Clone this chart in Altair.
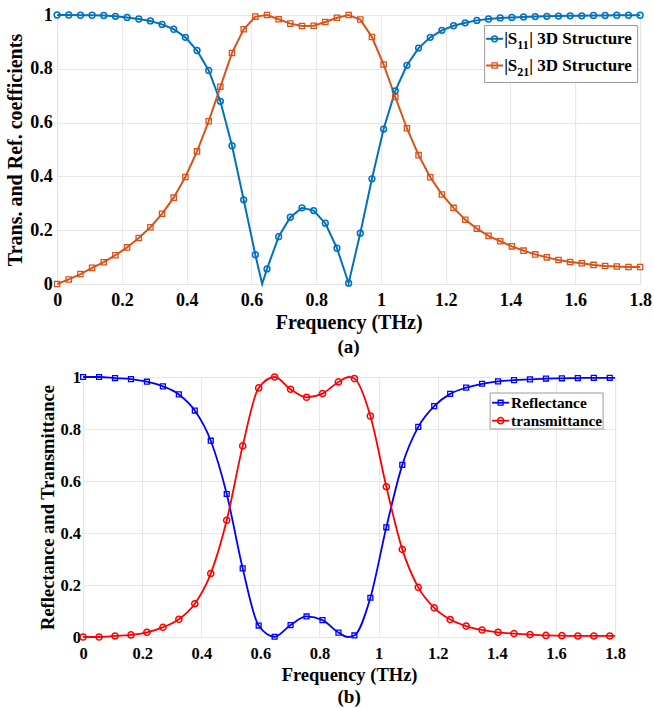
import altair as alt
import pandas as pd

FONT = "'Liberation Serif', 'Times New Roman', serif"

# ---------------- Panel (a) data ----------------
freq_a = [0.0, 0.036, 0.072, 0.108, 0.144, 0.18, 0.216, 0.252, 0.288, 0.324,
          0.36, 0.396, 0.432, 0.468, 0.504, 0.54, 0.576, 0.612, 0.648, 0.684,
          0.72, 0.756, 0.792, 0.828, 0.864, 0.9, 0.936, 0.972, 1.008, 1.044,
          1.08, 1.116, 1.152, 1.188, 1.224, 1.26, 1.296, 1.332, 1.368, 1.404,
          1.44, 1.476, 1.512, 1.548, 1.584, 1.62, 1.656, 1.692, 1.728, 1.764, 1.8]
s11 = [1.0, 1.0, 0.999, 0.999, 0.998, 0.995, 0.991, 0.985, 0.978, 0.965,
       0.947, 0.917, 0.868, 0.794, 0.679, 0.514, 0.313, 0.109, 0.056, 0.176,
       0.248, 0.283, 0.273, 0.226, 0.133, 0.003, 0.189, 0.391, 0.576, 0.718,
       0.813, 0.877, 0.917, 0.943, 0.960, 0.971, 0.980, 0.985, 0.989, 0.991,
       0.993, 0.994, 0.995, 0.996, 0.997, 0.997, 0.998, 0.998, 0.999, 0.999, 0.999]
s21 = [0.0, 0.017, 0.037, 0.060, 0.081, 0.107, 0.136, 0.171, 0.211, 0.261,
       0.321, 0.398, 0.493, 0.605, 0.733, 0.859, 0.947, 0.994, 1.0, 0.984,
       0.968, 0.959, 0.960, 0.974, 0.990, 1.0, 0.983, 0.918, 0.816, 0.695,
       0.579, 0.479, 0.397, 0.333, 0.283, 0.239, 0.206, 0.179, 0.159, 0.140,
       0.124, 0.110, 0.099, 0.089, 0.082, 0.077, 0.071, 0.067, 0.065, 0.063, 0.063]
# line-only point where |S11| touches zero between markers
s11_line_extra_f = [0.633]
s11_line_extra_v = [0.0]

# ---------------- Panel (b) data ----------------
freq_b = [0.0, 0.054, 0.108, 0.162, 0.216, 0.27, 0.324, 0.378, 0.432, 0.486,
          0.54, 0.594, 0.648, 0.702, 0.756, 0.81, 0.864, 0.918, 0.972, 1.026,
          1.08, 1.134, 1.188, 1.242, 1.296, 1.35, 1.404, 1.458, 1.512, 1.566,
          1.62, 1.674, 1.728, 1.782]
refl = [1.0, 1.0, 0.996, 0.992, 0.982, 0.964, 0.933, 0.871, 0.755, 0.550,
        0.264, 0.044, 0.001, 0.046, 0.079, 0.065, 0.017, 0.006, 0.151, 0.422,
        0.662, 0.808, 0.888, 0.935, 0.959, 0.974, 0.983, 0.988, 0.991, 0.994,
        0.995, 0.996, 0.997, 0.997]
trans = [0.0, 0.0, 0.004, 0.008, 0.018, 0.037, 0.068, 0.128, 0.244, 0.449,
         0.735, 0.958, 1.0, 0.953, 0.922, 0.936, 0.981, 0.994, 0.850, 0.578,
         0.337, 0.191, 0.112, 0.067, 0.042, 0.027, 0.018, 0.013, 0.009, 0.006,
         0.005, 0.004, 0.004, 0.004]
refl_line_extra_f = [0.896, 1.8]
refl_line_extra_v = [0.0, 0.997]
trans_line_extra_f = [0.9, 1.8]
trans_line_extra_v = [1.0, 0.004]

x_ticks = [0, 0.2, 0.4, 0.6, 0.8, 1, 1.2, 1.4, 1.6, 1.8]
y_ticks = [0, 0.2, 0.4, 0.6, 0.8, 1]

names_a = ["S11", "S21"]
names_b = ["Reflectance", "transmittance"]


def line_df(f, v, ef, ev, name):
    d = pd.DataFrame({"f": list(f) + list(ef), "v": list(v) + list(ev)})
    d = d.sort_values("f").reset_index(drop=True)
    d["s"] = name
    return d


def pts_df(f, v, name):
    return pd.DataFrame({"f": f, "v": v, "s": name})


one = pd.DataFrame({"k": [0]})


def panel(series, W, H, ytitle, caption, tick_fs, title_fs, cap_fs,
          xlp, ylp, xtp, ytp, cap_off, interp, legend):
    xaxis = alt.Axis(values=x_ticks, format="~g", title="Frequency (THz)",
                     labelFont=FONT, labelFontWeight="bold", labelFontSize=tick_fs,
                     labelColor="black", titleFont=FONT, titleFontWeight="bold",
                     titleFontSize=title_fs, titleColor="black", ticks=False,
                     tickSize=0, domain=False, grid=True, gridColor="#e6e6e6",
                     labelPadding=xlp, titlePadding=xtp, labelFlush=False)
    yaxis = alt.Axis(values=y_ticks, format="~g", title=ytitle,
                     labelFont=FONT, labelFontWeight="bold", labelFontSize=tick_fs,
                     labelColor="black", titleFont=FONT, titleFontWeight="bold",
                     titleFontSize=title_fs, titleColor="black", ticks=False,
                     tickSize=0, domain=False, grid=True, gridColor="#e6e6e6",
                     labelPadding=ylp, titlePadding=ytp, labelFlush=False)
    xs = alt.Scale(domain=[0, 1.8], nice=False, zero=False)
    ys = alt.Scale(domain=[0, 1], nice=False)
    xenc = alt.X("f:Q", scale=xs, axis=xaxis)
    yenc = alt.Y("v:Q", scale=ys, axis=yaxis)
    layers = []
    for s in series:
        ld, pd_, color, shape, size, lw, sw = s
        layers.append(alt.Chart(ld).mark_line(color=color, strokeWidth=lw,
                                              interpolate=interp)
                      .encode(x=xenc, y=yenc))
    for s in series:
        ld, pd_, color, shape, size, lw, sw = s
        layers.append(alt.Chart(pd_).mark_point(shape=shape, filled=False,
                                                color=color, size=size,
                                                strokeWidth=sw, opacity=1)
                      .encode(x=xenc, y=yenc))
    # legend (drawn manually to allow subscripts)
    lg = legend
    base = alt.Chart(one)
    layers.append(base.mark_rect(fill="white", stroke="#9a9a9a", strokeWidth=1)
                  .encode(x=alt.value(lg["box"][0]), x2=alt.value(lg["box"][1]),
                          y=alt.value(lg["box"][2]), y2=alt.value(lg["box"][3])))
    for i, s in enumerate(series):
        ld, pd_, color, shape, size, lw, sw = s
        ry = lg["rows"][i]
        layers.append(base.mark_rule(color=color, strokeWidth=lw)
                      .encode(x=alt.value(lg["line"][0]), x2=alt.value(lg["line"][1]),
                              y=alt.value(ry)))
        layers.append(base.mark_point(shape=shape, filled=False, color=color,
                                      size=size, strokeWidth=sw, opacity=1)
                      .encode(x=alt.value(lg["marker"]), y=alt.value(ry)))
        for (txt, dx, dy, fs) in lg["texts"][i]:
            layers.append(base.mark_text(align="left", baseline="middle", font=FONT,
                                         fontWeight="bold", fontSize=fs, color="black")
                          .encode(x=alt.value(lg["text_x"] + dx), y=alt.value(ry + dy),
                                  text=alt.value(txt)))
    return alt.layer(*layers).properties(
        width=W, height=H,
        title=alt.TitleParams(text=caption, orient="bottom", anchor="middle",
                              font=FONT, fontWeight="bold", fontSize=cap_fs,
                              color="black", offset=cap_off))


series_a = [
    (line_df(freq_a, s11, s11_line_extra_f, s11_line_extra_v, names_a[0]),
     pts_df(freq_a, s11, names_a[0]), "#0072BD", "circle", 34, 2, 1.5),
    (line_df(freq_a, s21, [], [], names_a[1]),
     pts_df(freq_a, s21, names_a[1]), "#D95319", "square", 28, 2, 1.3),
]
legend_a = {
    "box": [427.5, 580.5, 10.5, 67.5],
    "rows": [23.8, 50.5],
    "line": [429, 446],
    "marker": 437.5,
    "text_x": 447,
    "texts": [
        [("|S", 0, 0, 17), ("11", 13.2, 6, 12), ("| 3D Structure", 25.2, 0, 17)],
        [("|S", 0, 0, 17), ("21", 13.2, 6, 12), ("| 3D Structure", 25.2, 0, 17)],
    ],
}

series_b = [
    (line_df(freq_b, refl, refl_line_extra_f, refl_line_extra_v, names_b[0]),
     pts_df(freq_b, refl, names_b[0]), "#0000FF", "square", 24, 1.8, 1.3),
    (line_df(freq_b, trans, trans_line_extra_f, trans_line_extra_v, names_b[1]),
     pts_df(freq_b, trans, names_b[1]), "#FF0000", "circle", 38, 1.8, 1.5),
]
legend_b = {
    "box": [407, 520, 16, 52],
    "rows": [25.7, 43.7],
    "line": [409, 426],
    "marker": 417.5,
    "text_x": 428,
    "texts": [
        [("Reflectance", 0, 0, 15.3)],
        [("transmittance", 0, 0, 15.3)],
    ],
}

pa = panel(series_a, 583, 269, "Trans. and Ref. coefficients", "(a)",
           18, 20, 19, 7, 5, 3, 4, 6, "linear", legend_a)
pb = panel(series_b, 532, 260, "Reflectance and Transmittance", "(b)",
           16.5, 18.5, 19, 8, 2.5, 4, 2, 4, "monotone", legend_b)

chart = alt.vconcat(pa, pb, spacing=10, center=True).properties(
    padding={"top": 5, "left": 5, "right": 0, "bottom": 0}
).configure_view(stroke="#9a9a9a", strokeWidth=1).configure(background="white")

chart.save("out.html", embed_options={"renderer": "svg", "actions": False})
